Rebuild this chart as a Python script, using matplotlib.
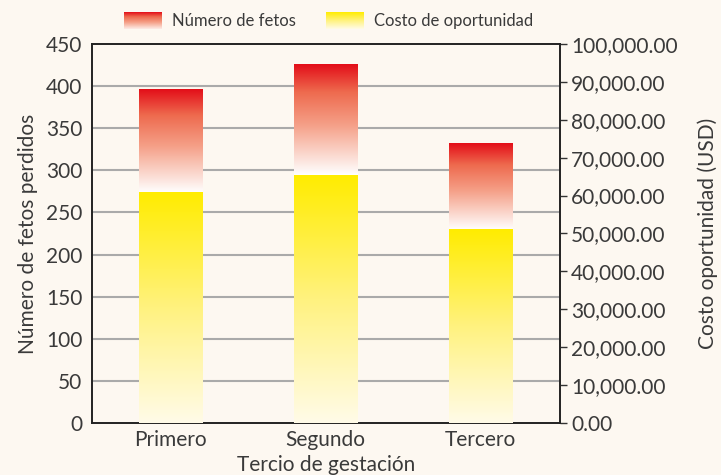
import matplotlib
matplotlib.use("Agg")
import matplotlib.pyplot as plt
import numpy as np
from matplotlib.colors import LinearSegmentedColormap
from matplotlib.ticker import FuncFormatter

# datos
tercios = ["Primero", "Segundo", "Tercero"]
fetos = [397, 426, 332]
costo = [60800, 65400, 51000]

fondo = "#FDF8F1"
texto = "#3A3A3A"
plt.rcParams["font.family"] = ["Lato", "DejaVu Sans"]

# degradados: abajo claro, arriba saturado
cmap_rojo = LinearSegmentedColormap.from_list(
    "rojo", [(0.0, "#FFFFFF"), (0.45, "#F5A088"), (0.75, "#EE6A4E"), (1.0, "#E30E19")])
cmap_amarillo = LinearSegmentedColormap.from_list(
    "amarillo", ["#FFFBE8", "#FFF27F", "#FFEC00"])
grad = np.linspace(0, 1, 256).reshape(-1, 1)

fig = plt.figure(figsize=(7.21, 4.75), dpi=100, facecolor=fondo)
ax = fig.add_axes([0.1276, 0.1095, 0.6491, 0.7979])
ax.set_facecolor(fondo)
ax2 = ax.twinx()

x = np.arange(len(tercios))
ancho = 0.41
ratio = 450 / 100000

for xi, f, c in zip(x, fetos, costo):
    base = c * ratio
    ax.imshow(grad, cmap=cmap_rojo, origin="lower", aspect="auto",
              extent=[xi - ancho / 2, xi + ancho / 2, base, f], zorder=3)
    ax2.imshow(grad, cmap=cmap_amarillo, origin="lower", aspect="auto",
               extent=[xi - ancho / 2, xi + ancho / 2, 0, c], zorder=3)

ax.set_xlim(-0.506, 2.513)
ax.set_ylim(0, 450)
ax2.set_ylim(0, 100000)

# rejilla
ax.set_yticks(np.arange(0, 451, 50))
for v in range(50, 450, 50):
    ax.axhline(v, color="#AAAAAA", lw=1.5, zorder=1)

ax.set_xticks(x)
ax.set_xticklabels(tercios)
ax.tick_params(axis="x", length=0, pad=5, labelsize=15, labelcolor=texto)
ax.tick_params(axis="y", length=0, pad=7, labelsize=15, labelcolor=texto)

ax2.set_yticks(np.arange(0, 100001, 10000))
ax2.yaxis.set_major_formatter(FuncFormatter(lambda v, p: f"{v:,.2f}"))
ax2.tick_params(axis="y", length=5, width=1, color="#333333", pad=3,
                labelsize=15, labelcolor=texto)

for a in (ax, ax2):
    for s in a.spines.values():
        s.set_color("#222222")
        s.set_linewidth(1.2)

ax.set_ylabel("Número de fetos perdidos", fontsize=15, color=texto, labelpad=6)
ax2.set_ylabel("Costo oportunidad (USD)", fontsize=15, color=texto, labelpad=14)
ax.set_xlabel("Tercio de gestación", fontsize=15, color=texto, labelpad=4)

# leyenda con degradados
for xpos, cm, etiqueta in [(124, cmap_rojo, "Número de fetos"),
                           (326, cmap_amarillo, "Costo de oportunidad")]:
    la = fig.add_axes([xpos / 721, 1 - 29 / 475, 38 / 721, 17 / 475])
    la.imshow(grad, cmap=cm, origin="lower", aspect="auto",
              vmin=-0.1 if cm is cmap_rojo else 0)
    la.axis("off")
    fig.text((xpos + 48) / 721, 1 - 21 / 475, etiqueta, fontsize=12,
             color=texto, va="center", ha="left")

fig.savefig("out.png", dpi=100, facecolor=fondo)
